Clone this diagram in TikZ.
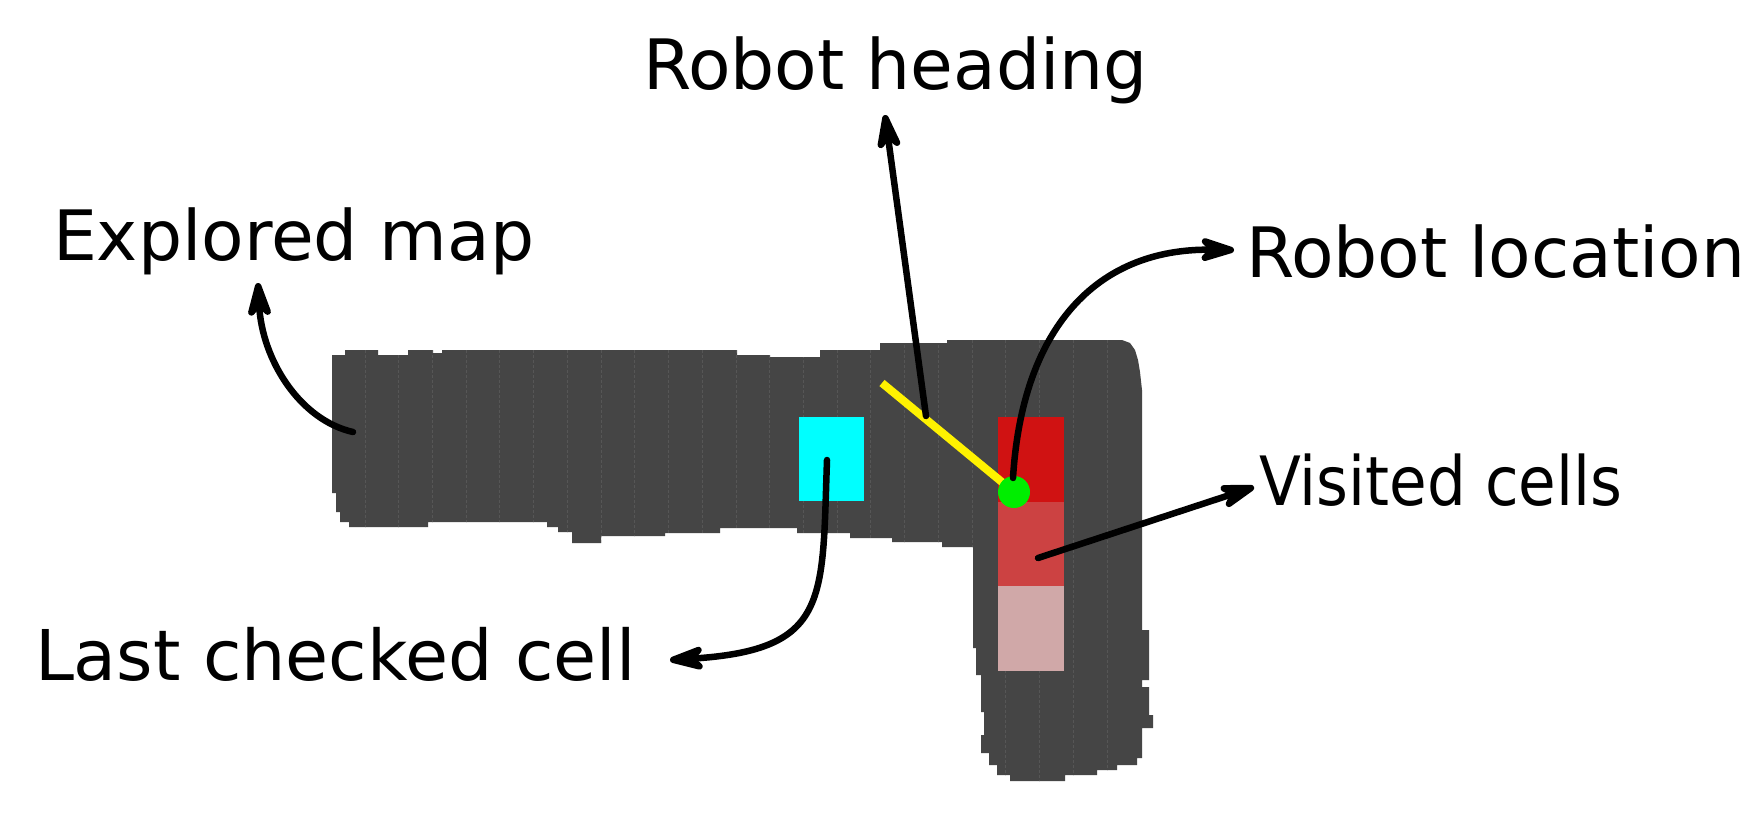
\documentclass[tikz,border=0pt]{standalone}
\usepackage{graphicx}
\usepackage{fontspec}
\setmainfont{DejaVu Sans}
\usetikzlibrary{arrows.meta}
\definecolor{mapgray}{HTML}{454545}
\definecolor{sepgray}{HTML}{565656}
\definecolor{cellcyan}{HTML}{00FFFF}
\definecolor{visitA}{HTML}{D01212}
\definecolor{visitB}{HTML}{CC4242}
\definecolor{visitC}{HTML}{D0A8A8}
\definecolor{dotgreen}{HTML}{00EE00}
\definecolor{headyellow}{HTML}{FFF200}
\newcommand\mapoutline{(332,355) -- (345,355) -- (345,350) -- (378,350) -- (378,355) -- (408,355) -- (408,350) -- (433,350) -- (433,353) -- (442,353) -- (442,350) -- (737,350) -- (737,355) -- (770,355) -- (770,357) -- (820,357) -- (820,350) -- (880,350) -- (880,343) -- (947,343) -- (947,340) -- (1122,340) -- (1130,343) -- (1135,350) -- (1138,360) -- (1140,372) -- (1142,390) -- (1142,630) -- (1149,630) -- (1149,680) -- (1142,680) -- (1142,687) -- (1149,687) -- (1149,715) -- (1153,715) -- (1153,728) -- (1142,728) -- (1142,758) -- (1137,758) -- (1137,765) -- (1117,765) -- (1117,770) -- (1097,770) -- (1097,775) -- (1065,775) -- (1065,781) -- (1010,781) -- (1010,775) -- (997,775) -- (997,765) -- (989,765) -- (989,753) -- (981,753) -- (981,735) -- (984,735) -- (984,712) -- (981,712) -- (981,675) -- (976,675) -- (976,648) -- (973,648) -- (973,547) -- (942,547) -- (942,542) -- (892,542) -- (892,538) -- (850,538) -- (850,533) -- (797,533) -- (797,528) -- (720,528) -- (720,533) -- (665,533) -- (665,536) -- (601,536) -- (601,543) -- (572,543) -- (572,532) -- (558,532) -- (558,527) -- (547,527) -- (547,522) -- (428,522) -- (428,527) -- (349,527) -- (349,522) -- (340,522) -- (340,512) -- (336,512) -- (336,493) -- (332,493) -- cycle}
\tikzset{
  txt/.style={anchor=base west, inner sep=0pt, outer sep=0pt, font=\fontsize{69.5}{82}\selectfont},
  cellbox/.style={rectangle, inner sep=0pt, outer sep=0pt, minimum width=66pt, minimum height=84.5pt},
  callout/.style={line width=6.5pt, line cap=round, -{Stealth[length=48pt,width=30pt,inset=15pt,round]}},
  sepline/.style={sepgray, line width=1pt, dash pattern=on 3pt off 2pt},
}
\begin{document}
\begin{tikzpicture}[x=1pt,y=-1pt]
\fill[white] (0,0) rectangle (1759,819);
\useasboundingbox (0,0) rectangle (1759,819);
% explored map
\fill[mapgray] \mapoutline;
\begin{scope}
  \clip \mapoutline;
  \foreach \k in {0,...,22}{
    \draw[sepline] ({365+33.73*\k},330) -- ({365+33.73*\k},790);
  }
\end{scope}
% cells
\node[cellbox, fill=cellcyan, minimum width=65pt] (lastcell) at (831.5,459) {};
\node[cellbox, fill=visitA] (visit1) at (1031,459.5) {};
\node[cellbox, fill=visitB] (visit2) at (1031,544) {};
\node[cellbox, fill=visitC] (visit3) at (1031,628.5) {};
% robot heading and location
\coordinate (robotpos) at (1014,492);
\coordinate (headtail) at (882,383);
\draw[headyellow, line width=8pt] (headtail) -- (robotpos);
\node[circle, fill=dotgreen, inner sep=0pt, minimum size=32pt] (robot) at (robotpos) {};
% labels
\node[txt] (lexpl) at (53,260) {Explored map};
\node[txt] (lhead) at (643,89) {Robot heading};
\node[txt] (lloc) at (1246,277) {Robot location};
\node[txt, font=\fontsize{68}{80}\selectfont] (lvis) at (1259,505) {\scalebox{0.9}[1]{Visited cells}};
\node[txt, font=\fontsize{70}{82}\selectfont] (llast) at (35,680) {Last checked cell};
% connector end points
\coordinate (explstart) at (353,432);
\coordinate (expltip) at (258,283);
\coordinate (headmid) at (926,416);
\coordinate (headtip) at (885,115);
\coordinate (locstart) at (1013,478);
\coordinate (loctip) at (1234,250);
\coordinate (visstart) at (1038,558);
\coordinate (vistip) at (1254,487);
\coordinate (laststart) at (827,460);
\coordinate (lasttip) at (670,660);
% connectors
\draw[callout] (explstart) .. controls (300,420) and (262,360) .. (expltip);
\draw[callout] (headmid) -- (headtip);
\draw[callout] (locstart) .. controls (1022,330) and (1095,248) .. (loctip);
\draw[callout] (visstart) -- (vistip);
\draw[callout] (laststart) .. controls (822,600) and (830,650) .. (lasttip);
\end{tikzpicture}
\end{document}
